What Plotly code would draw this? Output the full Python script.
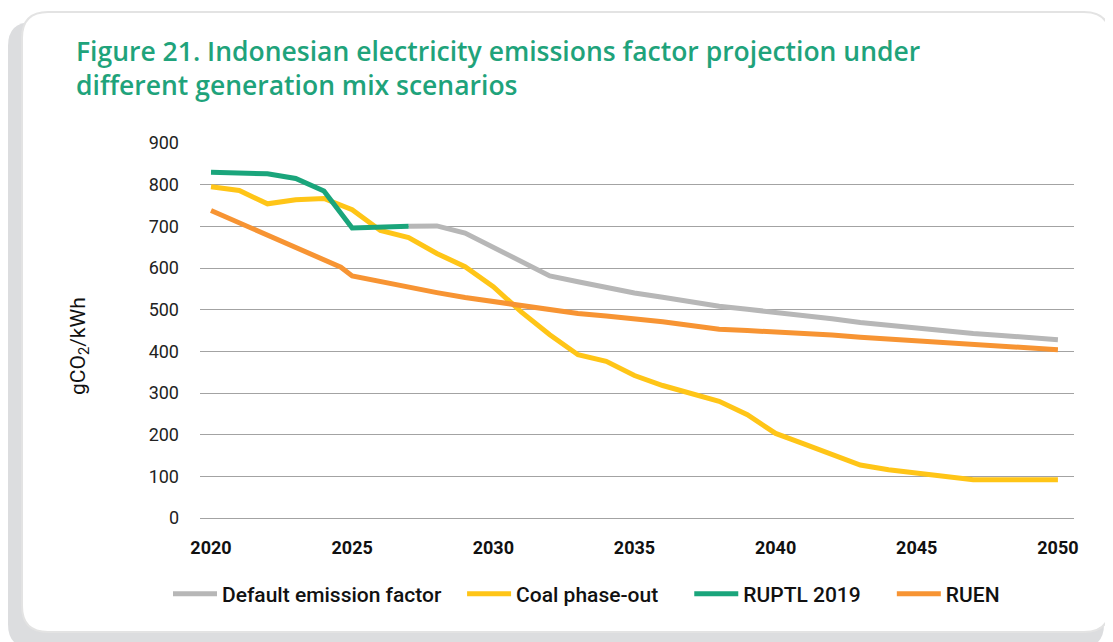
import plotly.graph_objects as go

# --- data (gCO2/kWh) ---
years = list(range(2020, 2051))

default_years = list(range(2027, 2051))
default_ef = [700, 701, 684, 650, 615, 581, 567, 553, 540, 530, 519, 508,
              501, 494, 487, 478, 469, 462, 456, 449, 443, 438, 433, 428]

coal_phaseout = [795, 786, 754, 764, 767, 740, 690, 673, 635, 603, 555,
                 494, 440, 392, 376, 342, 318, 298, 280, 248, 203, 178,
                 152, 127, 116, 107, 99, 92, 92, 92, 92]

ruptl_years = list(range(2020, 2028))
ruptl_2019 = [830, 828, 826, 815, 785, 696, 698, 700]

ruen_years = [2020, 2021, 2022, 2023, 2024, 2024.6] + list(range(2025, 2051))
ruen = [738, 708, 679, 649, 620, 602, 581, 567, 555, 541, 529, 519, 508,
        499, 491, 485, 479, 471, 462, 453, 450, 447, 443, 439, 434, 430,
        426, 421, 417, 413, 409, 404]

x_ticks = [2020, 2025, 2030, 2035, 2040, 2045, 2050]
y_ticks = [0, 100, 200, 300, 400, 500, 600, 700, 800, 900]

colors = {
    "Default emission factor": "#b7b7b7",
    "Coal phase-out": "#ffc517",
    "RUPTL 2019": "#1aa57b",
    "RUEN": "#f79433",
}

# the page body adds an 8px margin, so work in screen pixels and shift back
OFF = 8
W, H = 1113, 642
pw, ph = 874, 375
L, T = 200 - OFF, 143 - OFF
R, B = W - L - pw, H - T - ph


def px(x):
    return (x - OFF - L) / pw


def py(y):
    return (H - B - (y - OFF)) / ph


def rounded(x0, y0, x1, y1, r):
    # rounded rectangle path in paper coords, from screen pixel corners
    pts = [
        f"M {px(x0 + r)} {py(y0)}",
        f"L {px(x1 - r)} {py(y0)}",
        f"Q {px(x1)} {py(y0)} {px(x1)} {py(y0 + r)}",
        f"L {px(x1)} {py(y1 - r)}",
        f"Q {px(x1)} {py(y1)} {px(x1 - r)} {py(y1)}",
        f"L {px(x0 + r)} {py(y1)}",
        f"Q {px(x0)} {py(y1)} {px(x0)} {py(y1 - r)}",
        f"L {px(x0)} {py(y0 + r)}",
        f"Q {px(x0)} {py(y0)} {px(x0 + r)} {py(y0)}",
        "Z",
    ]
    return " ".join(pts)


NB = "\u00a0"
legend_pad = {"Default emission factor": 3, "Coal phase-out": 5, "RUPTL 2019": 5, "RUEN": 0}

fig = go.Figure()

series = [
    ("Default emission factor", default_years, default_ef, 1),
    ("Coal phase-out", years, coal_phaseout, 2),
    ("RUEN", ruen_years, ruen, 4),
    ("RUPTL 2019", ruptl_years, ruptl_2019, 3),
]
for name, xs, ys, rank in series:
    fig.add_trace(go.Scatter(
        x=xs, y=ys, name=name + NB * legend_pad[name], mode="lines", legendrank=rank,
        line=dict(color=colors[name], width=5),
    ))

fig.update_layout(
    width=W, height=H,
    margin=dict(l=L, r=R, t=T, b=B),
    paper_bgcolor="white",
    plot_bgcolor="rgba(0,0,0,0)",
    font=dict(family="Roboto", color="#1a1a1a"),
    showlegend=True,
    legend=dict(
        orientation="h", x=px(168), y=py(594), xanchor="left", yanchor="middle",
        itemwidth=44,
        font=dict(size=21, family="Roboto", weight=500, color="#111"),
        bgcolor="rgba(0,0,0,0)", traceorder="normal",
    ),
    shapes=[
        dict(type="path", path=rounded(8, 22, 1104, 648, 24), xref="paper", yref="paper",
             fillcolor="#dcdddf", line=dict(width=0), layer="below"),
        dict(type="path", path=rounded(22, 12, 1110, 632, 26), xref="paper", yref="paper",
             fillcolor="white", line=dict(color="#e3e3e3", width=2), layer="below"),
    ],
    annotations=[
        dict(text="Figure 21. Indonesian electricity emissions factor projection under<br>"
                  "different generation mix scenarios",
             x=px(74), y=py(31), xref="paper", yref="paper", xanchor="left", yanchor="top",
             align="left", showarrow=False,
             font=dict(family="Open Sans", size=26.5, weight=600, color="#1fa37b")),
        dict(text="gCO<sub>2</sub>/kWh", x=px(79), y=py(346), xref="paper", yref="paper",
             xanchor="center", yanchor="middle",
             textangle=-90, showarrow=False,
             font=dict(family="Roboto", size=21, color="#111")),
    ],
)

fig.update_xaxes(
    range=[2019.61, 2050.57], tickvals=x_ticks, showgrid=False, zeroline=False,
    showline=False, ticks="", ticklabelstandoff=17,
    tickfont=dict(family="Roboto", size=18, weight=700, color="#111"),
)
fig.update_yaxes(
    range=[0, 900], tickvals=y_ticks, showgrid=True, gridcolor="#a3a3a3", gridwidth=1.4,
    zeroline=True, zerolinecolor="#a3a3a3", zerolinewidth=1.4, showline=False,
    ticks="", ticklabelstandoff=20,
    tickfont=dict(family="Roboto", size=18, color="#222"),
)

fig.write_html("out.html")
